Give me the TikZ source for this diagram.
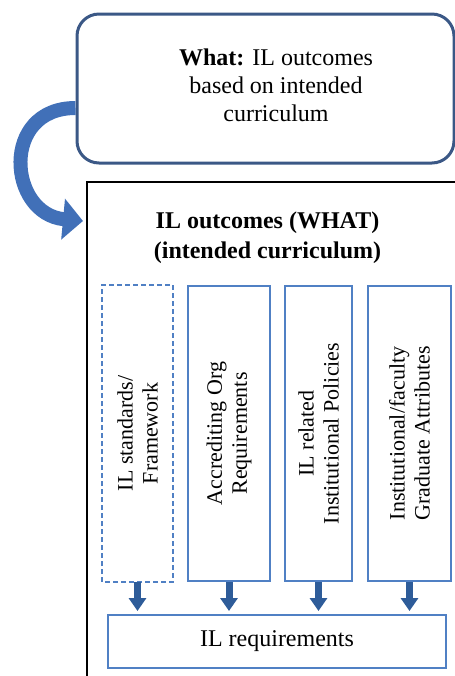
\documentclass[tikz,border=0pt]{standalone}
\usepackage{fontspec}
\setmainfont{Liberation Serif}
\usetikzlibrary{arrows.meta}

\definecolor{navyline}{HTML}{3B5886}
\definecolor{colblue}{HTML}{5080C4}
\definecolor{arrblue}{HTML}{2E5C99}
\definecolor{bandblue}{HTML}{4170B8}

\begin{document}
\begin{tikzpicture}[
    x=0.5pt,
    y=0.5pt,
    font=\fontsize{12}{15}\selectfont,
    colbox/.style={draw=colblue, line width=1pt, inner sep=0pt, rotate=90,
        minimum width=147.5pt, minimum height=#1, align=center,
        font=\fontsize{11}{12.5}\selectfont},
    downarrow/.style={arrblue, line width=3.5pt, shorten >=1.5pt,
        -{Triangle[width=8.5pt, length=6.5pt]}}
]

\useasboundingbox (0,0) rectangle (455,-676);
\clip (0,0) rectangle (455,-676);

% Top box
\node[draw=navyline, line width=1.5pt, rounded corners=11pt,
    minimum width=188.5pt, minimum height=74.5pt] (whatbox) at (265.5,-88.5) {};
\node[align=center, font=\fontsize{12}{14}\selectfont] (whattext) at (276,-85)
    {\textbf{What:} IL outcomes\\based on intended\\curriculum};

% Outer frame
\draw[line width=1pt] (87,-182) rectangle (480,-700);
\node[align=center, font=\bfseries\fontsize{12}{15}\selectfont] (title) at (267.5,-238)
    {IL outcomes (WHAT)\\(intended curriculum)};

% Bent arrow
\coordinate (bendstart) at (whatbox.west |- 0,-108);
\coordinate (bendend) at (83,-221);
\draw[bandblue, line width=7pt, -{Triangle[width=20pt, length=10pt]}]
    (bendstart) .. controls (0,-108) and (8,-214) .. (bendend);

% Columns (rotated, so west is the bottom)
\node[colbox=34.5pt, draw=none] (c1) at (137.5,-433.5) {IL standards/\\Framework};
\draw[colblue, line width=1pt, dash pattern=on 2.5pt off 1.5pt]
    (c1.north west) rectangle (c1.south east);
\node[colbox=41pt] (c2) at (229,-433.5) {Accrediting Org\\Requirements};
\node[colbox=33.5pt] (c3) at (318.5,-433.5) {IL related\\Institutional Policies};
\node[colbox=41.5pt] (c4) at (409.5,-433.5) {Institutional/faculty\\Graduate Attributes};

% Requirements
\node[draw=colblue, line width=1pt, minimum width=169pt, minimum height=26.5pt]
    (req) at (277,-641.5) {IL requirements};

% Arrows down
\foreach \c in {c1,c2,c3,c4}
    \draw[downarrow] (\c.west) -- (\c.west |- req.north);

\end{tikzpicture}
\end{document}
